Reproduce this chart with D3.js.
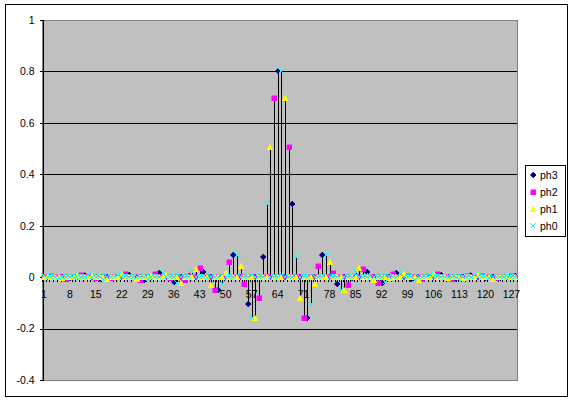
<!DOCTYPE html>
<html>
<head>
<meta charset="utf-8">
<script src="https://cdn.jsdelivr.net/npm/d3@7"></script>
<style>
body { margin: 0; background: #fff; }
text { font-family: Arial, "Liberation Sans", sans-serif; font-size: 10px; fill: #000; }
</style>
</head>
<body>
<svg width="570" height="401"></svg>
<script>
const width = 570
const height = 401
const margin = { top: 20, bottom: 380, left: 42, right: 517 }

// categories 1..128, labels every 7th
const categories = d3.range(1, 129)
const xLabels = [1, 8, 15, 22, 29, 36, 43, 50, 57, 64, 71, 78, 85, 92, 99, 106, 113, 120, 127]
const yTicks = [-0.4, -0.2, 0, 0.2, 0.4, 0.6, 0.8, 1]

// polyphase components: ph0 at 1,5,9..  ph1 at 2,6,10..  ph2 at 3,7,11..  ph3 at 4,8,12..
const ph0 = [0.003, -0.002, -0.002, 0.008, -0.009, 0.008, -0.001, -0.007, 0.015, -0.021, 0.021, -0.005, -0.027, 0.087, -0.159, 0.285,
             0.8, 0.077, -0.103, 0.087, -0.049, 0.021, 0.005, -0.017, 0.016, -0.013, 0.009, 0.002, -0.007, 0.009, -0.005, 0.002]
const ph1 = [0.004, -0.005, 0.003, 0.004, -0.009, 0.011, -0.009, 0.003, 0.008, -0.021, 0.033, -0.032, 0.017, 0.045, -0.158, 0.507,
             0.695, -0.08, -0.025, 0.058, -0.049, 0.037, -0.011, -0.005, 0.012, -0.013, 0.011, -0.005, -0.002, 0.008, -0.006, 0.004]
const ph2 = [0.004, -0.006, 0.008, -0.002, -0.005, 0.011, -0.013, 0.012, -0.005, -0.011, 0.037, -0.049, 0.058, -0.025, -0.08, 0.695,
             0.507, -0.158, 0.045, 0.017, -0.032, 0.033, -0.021, 0.012, 0.003, -0.009, 0.011, -0.009, 0.004, 0.003, -0.005, 0.004]
const ph3 = [0.002, -0.005, 0.009, -0.007, 0.002, 0.01, -0.013, 0.016, -0.017, 0.005, 0.021, -0.049, 0.087, -0.103, 0.077, 0.8,
             0.285, -0.159, 0.087, -0.027, -0.005, 0.021, -0.021, 0.016, -0.007, -0.001, 0.008, -0.009, 0.008, -0.002, -0.002, 0.003]

const seriesNames = ["ph3", "ph2", "ph1", "ph0"]
const seriesData = [ph3, ph2, ph1, ph0]
const seriesOffset = [4, 3, 2, 1]
const colors = ["#000080", "#FF00FF", "#FFFF00", "#00FFFF"]

// each series spans all categories, zero outside its own phase
const series = seriesNames.map(function(name, k) {
  return {
    name: name,
    color: colors[k],
    shape: k,
    values: categories.map(function(c) {
      const j = c - seriesOffset[k]
      return { c: c, v: (j % 4 === 0 && j >= 0) ? seriesData[k][j / 4] : 0 }
    })
  }
})

const x = d3.scaleBand().domain(categories).range([margin.left, margin.right])
const xb = d3.scaleLinear().domain([0, 128]).range([margin.left, margin.right])
const y = d3.scaleLinear().domain([-0.4, 1]).range([margin.bottom, margin.top])
const cx = function(c) { return Math.round(x(c) + x.bandwidth() / 2) + 0.5 }

const svg = d3.select("svg")

// chart area
svg.append("rect")
  .attr("x", 5.5).attr("y", 4.5).attr("width", 562).attr("height", 392)
  .attr("fill", "#fff").attr("stroke", "#000")

// plot area
svg.append("rect")
  .attr("x", margin.left).attr("y", margin.top)
  .attr("width", margin.right - margin.left).attr("height", margin.bottom - margin.top)
  .attr("fill", "#C0C0C0").attr("stroke", "#808080")
  .attr("shape-rendering", "crispEdges")

// gridlines
svg.append("g").selectAll("line")
  .data(yTicks.filter(function(d) { return d > -0.4 && d < 1 }))
  .enter().append("line")
  .attr("x1", margin.left).attr("x2", margin.right)
  .attr("y1", function(d) { return Math.round(y(d)) + 0.5 })
  .attr("y2", function(d) { return Math.round(y(d)) + 0.5 })
  .attr("stroke", "#000")

// y axis
const yAxis = d3.axisLeft(y).tickValues(yTicks).tickSize(3).tickPadding(5)
  .tickFormat(function(d) { return String(d) })
svg.append("g")
  .attr("class", "axis y")
  .attr("transform", "translate(" + (margin.left + 0.5) + ",0)")
  .call(yAxis)
  .call(function(g) { g.selectAll("text").style("font-size", "10.5px").style("font-family", "Arial, 'Liberation Sans', sans-serif") })
  .call(function(g) { g.selectAll("line,path").attr("stroke", "#000").attr("shape-rendering", "crispEdges") })

// x axis: tick marks between categories, labels every 7th
const xTickAxis = d3.axisBottom(xb).tickValues(d3.range(0, 129)).tickSize(4).tickFormat("")
svg.append("g")
  .attr("class", "axis xticks")
  .attr("transform", "translate(0," + (Math.round(y(0)) + 0.5) + ")")
  .call(xTickAxis)
  .call(function(g) { g.selectAll("line,path").attr("stroke", "#000").attr("shape-rendering", "crispEdges") })

const xAxis = d3.axisBottom(x).tickValues(xLabels).tickSize(0).tickPadding(13)
svg.append("g")
  .attr("class", "axis x")
  .attr("transform", "translate(0," + (Math.round(y(0)) + 0.5) + ")")
  .call(xAxis)
  .call(function(g) { g.select(".domain").remove() })
  .call(function(g) { g.selectAll("text").style("font-size", "10.5px").style("font-family", "Arial, 'Liberation Sans', sans-serif") })

// high-low lines
const hiLo = categories.map(function(c, i) {
  const vals = series.map(function(s) { return s.values[i].v })
  return { c: c, lo: d3.min(vals), hi: d3.max(vals) }
})
svg.append("g").attr("class", "hilo").selectAll("line")
  .data(hiLo)
  .enter().append("line")
  .attr("x1", function(d) { return cx(d.c) })
  .attr("x2", function(d) { return cx(d.c) })
  .attr("y1", function(d) { return y(d.lo) })
  .attr("y2", function(d) { return y(d.hi) })
  .attr("stroke", "#000")
  .attr("shape-rendering", "crispEdges")

// marker shapes
const shapes = [
  "M0,-3L3,0L0,3L-3,0Z",          // diamond
  "M-2.5,-2.5h5v5h-5Z",           // square
  "M0,-3L3,2.5L-3,2.5Z",          // triangle
  "M-2.5,-2.5L2.5,2.5M2.5,-2.5L-2.5,2.5" // x
]

function drawMarker(sel, k, color) {
  sel.attr("shape-rendering", "crispEdges")
  if (k === 3) {
    sel.attr("d", shapes[k]).attr("fill", "none").attr("stroke", color).attr("stroke-width", 1.2)
  } else {
    sel.attr("d", shapes[k]).attr("fill", color).attr("stroke", color).attr("stroke-width", 0.5)
  }
}

series.forEach(function(s) {
  svg.append("g").attr("class", "series " + s.name)
    .selectAll("path")
    .data(s.values)
    .enter().append("path")
    .attr("transform", function(d) { return "translate(" + (cx(d.c) - 0.5) + "," + Math.round(y(d.v)) + ")" })
    .call(drawMarker, s.shape, s.color)
})

// legend
const legend = svg.append("g").attr("class", "legend")
legend.append("rect")
  .attr("x", 525.5).attr("y", 165.5).attr("width", 40).attr("height", 71)
  .attr("fill", "#fff").attr("stroke", "#000")
const items = legend.selectAll("g.item")
  .data(series)
  .enter().append("g")
  .attr("class", "item")
  .attr("transform", function(d, i) { return "translate(533," + (175 + i * 17) + ")" })
items.append("path").each(function(d) { drawMarker(d3.select(this), d.shape, d.color) })
items.append("text")
  .attr("x", 7).attr("dy", "0.35em")
  .style("font-size", "10.5px")
  .text(function(d) { return d.name })
</script>
</body>
</html>
